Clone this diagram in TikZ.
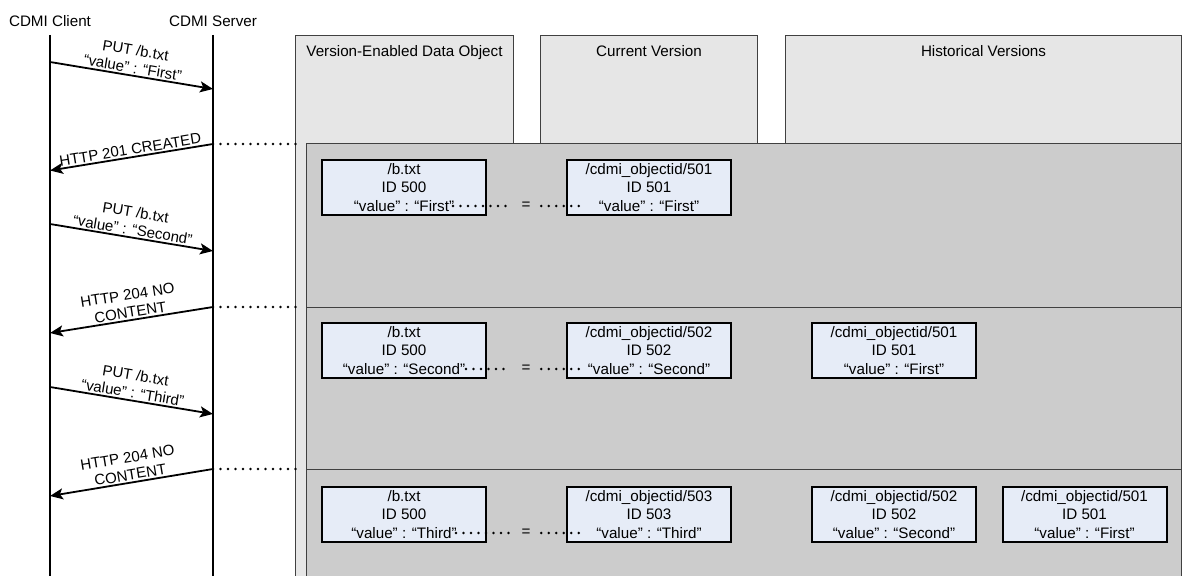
\documentclass[tikz,border=0pt]{standalone}
\usepackage{fontspec}
\setmainfont{Liberation Sans}
\usetikzlibrary{arrows.meta}
\definecolor{hdrfill}{HTML}{E6E6E6}
\definecolor{regfill}{HTML}{CCCCCC}
\definecolor{objfill}{HTML}{E6ECF7}
\definecolor{edgegray}{HTML}{404040}
\begin{document}
\begin{tikzpicture}[x=1pt,y=-1pt,
  txt/.style={font=\fontsize{15.2}{17}\selectfont, inner sep=0pt},
  lifeline/.style={line width=1.8pt},
  msg/.style={line width=1.8pt},
  msglabel/.style={font=\fontsize{15}{17.5}\selectfont, align=center, inner sep=1.5pt, midway, above, sloped},
  hdr/.style={draw=edgegray, line width=1pt, fill=hdrfill, anchor=north west, inner sep=0pt},
  region/.style={draw=edgegray, line width=1pt, fill=regfill, anchor=north west, inner sep=0pt},
  divider/.style={draw=edgegray, line width=1pt},
  obj/.style={draw=black, line width=2pt, fill=objfill, minimum width=164pt, minimum height=55pt, inner sep=0pt, align=center, font=\fontsize{15.2}{18.5}\selectfont},
  dots/.style={line width=2.8pt, line cap=round, dash pattern=on 0pt off 7.5pt},
  eqsign/.style={font=\fontsize{15.2}{17}\selectfont, minimum width=30pt, inner sep=0pt}
]
\useasboundingbox (0,0) rectangle (1182,575);

% header panels
\node[hdr, minimum width=218pt, minimum height=550pt] (veo) at (295,35) {};
\node[hdr, minimum width=217pt, minimum height=550pt] (cur) at (540,35) {};
\node[hdr, minimum width=396pt, minimum height=550pt] (hist) at (785,35) {};
\node[txt, anchor=base] (veol) at ([yshift=-21.5pt]veo.north) {Version-Enabled Data Object};
\node[txt, anchor=base] (curl) at ([yshift=-21.5pt]cur.north) {Current Version};
\node[txt, anchor=base] (histl) at ([yshift=-21.5pt]hist.north) {Historical Versions};

% state region
\node[region, minimum width=875pt, minimum height=445pt] (stack) at (306,143) {};
\coordinate (d1l) at (306,307); \coordinate (d1r) at (1181,307);
\coordinate (d2l) at (306,469); \coordinate (d2r) at (1181,469);
\draw[divider] (d1l) -- (d1r);
\draw[divider] (d2l) -- (d2r);

% objects
\node[obj] (v1) at (404,187.5) {/b.txt\\ID 500\\“value” : “First”};
\node[obj] (cv1) at (649,187.5) {/cdmi\_objectid/501\\ID 501\\“value” : “First”};
\node[obj] (v2) at (404,350.5) {/b.txt\\ID 500\\“value” : “Second”};
\node[obj] (cv2) at (649,350.5) {/cdmi\_objectid/502\\ID 502\\“value” : “Second”};
\node[obj] (h21) at (894,350.5) {/cdmi\_objectid/501\\ID 501\\“value” : “First”};
\node[obj] (v3) at (404,514.5) {/b.txt\\ID 500\\“value” : “Third”};
\node[obj] (cv3) at (649,514.5) {/cdmi\_objectid/503\\ID 503\\“value” : “Third”};
\node[obj] (h32) at (894,514.5) {/cdmi\_objectid/502\\ID 502\\“value” : “Second”};
\node[obj] (h31) at (1084.5,514.5) {/cdmi\_objectid/501\\ID 501\\“value” : “First”};

% equality links
\node[eqsign] (eq1) at (526,206) {=};
\node[eqsign] (eq2) at (526,369) {=};
\node[eqsign] (eq3) at (526,533) {=};
\coordinate (v1e) at (453,206); \coordinate (cv1s) at (582,206);
\coordinate (v2e) at (466,369); \coordinate (cv2s) at (585,369);
\coordinate (v3e) at (456,533); \coordinate (cv3s) at (580,533);
\draw[dots] (v1e) -- (eq1); \draw[dots] (eq1) -- (cv1s);
\draw[dots] (v2e) -- (eq2); \draw[dots] (eq2) -- (cv2s);
\draw[dots] (v3e) -- (eq3); \draw[dots] (eq3) -- (cv3s);

% lifelines
\node[txt, anchor=base] (client) at (50,27) {CDMI Client};
\node[txt, anchor=base] (server) at (213,27) {CDMI Server};
\coordinate (ctop) at (50,35); \coordinate (cbot) at (50,580);
\coordinate (stop) at (213,35); \coordinate (sbot) at (213,580);
\draw[lifeline] (ctop) -- (cbot);
\draw[lifeline] (stop) -- (sbot);

% message points
\coordinate (c1) at (50,62);   \coordinate (s1) at (213,89);
\coordinate (s2) at (213,144); \coordinate (c2) at (50,170.5);
\coordinate (c3) at (50,224);  \coordinate (s3) at (213,251);
\coordinate (s4) at (213,307); \coordinate (c4) at (50,333);
\coordinate (c5) at (50,387);  \coordinate (s5) at (213,414);
\coordinate (s6) at (213,469); \coordinate (c6) at (50,496);
\coordinate (g2) at (298,144); \coordinate (g4) at (298,307); \coordinate (g6) at (298,469);

\draw[msg, -{Stealth[length=13pt,width=11pt,inset=3pt]}] (c1) -- (s1)
  node[msglabel] {PUT /b.txt\\“value” : “First”};
\draw[msg, {Stealth[length=13pt,width=11pt,inset=3pt]}-] (c2) -- (s2)
  node[msglabel] {HTTP 201 CREATED};
\draw[msg, -{Stealth[length=13pt,width=11pt,inset=3pt]}] (c3) -- (s3)
  node[msglabel] {PUT /b.txt\\“value” : “Second”};
\draw[msg, {Stealth[length=13pt,width=11pt,inset=3pt]}-] (c4) -- (s4)
  node[msglabel] {HTTP 204 NO\\CONTENT};
\draw[msg, -{Stealth[length=13pt,width=11pt,inset=3pt]}] (c5) -- (s5)
  node[msglabel] {PUT /b.txt\\“value” : “Third”};
\draw[msg, {Stealth[length=13pt,width=11pt,inset=3pt]}-] (c6) -- (s6)
  node[msglabel] {HTTP 204 NO\\CONTENT};

\draw[dots] (s2) -- (g2);
\draw[dots] (s4) -- (g4);
\draw[dots] (s6) -- (g6);
\end{tikzpicture}
\end{document}
